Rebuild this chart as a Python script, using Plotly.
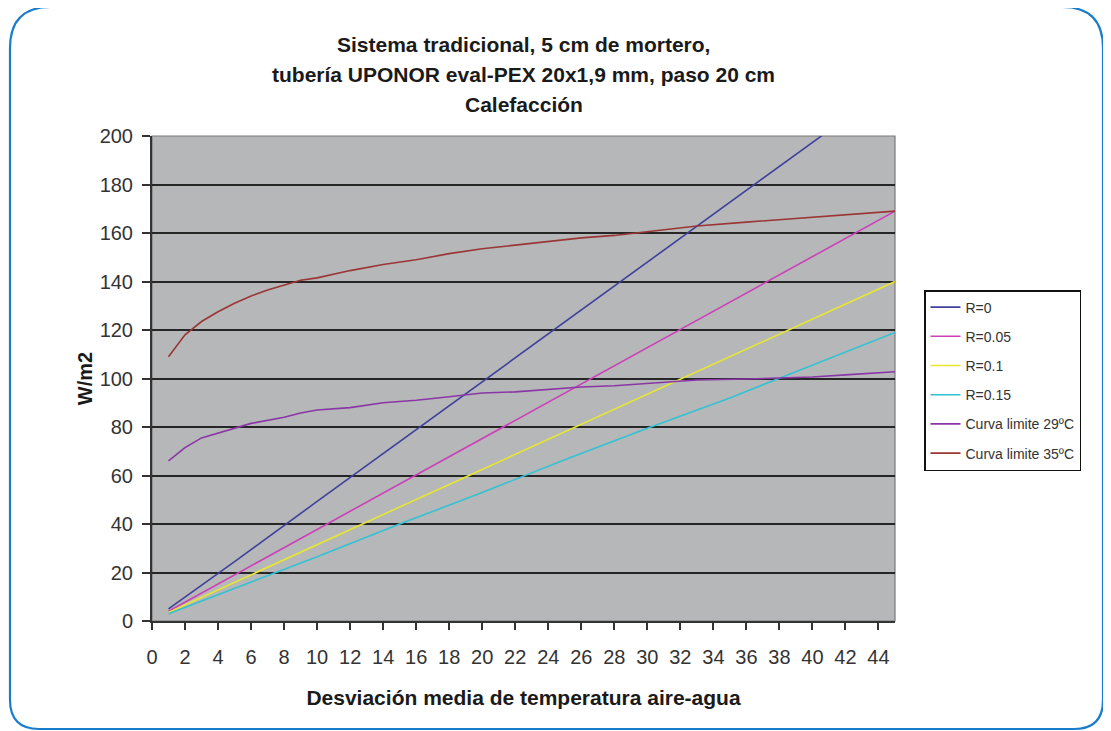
import plotly.graph_objects as go

# ---------------- data ----------------
x_lin = [1, 5, 10, 15, 20, 25, 30, 35, 40, 45]
r0 = [5, 24.5, 49.3, 74, 98.7, 123.3, 148, 172.7, 197.3, 222]
r005 = [4, 19, 37.8, 56.5, 75.3, 94, 112.8, 131.5, 150.3, 169]
r01 = [3.5, 16, 31.5, 47, 62.5, 78, 93.5, 109, 124.5, 140]
r015 = [3, 13.5, 26.5, 40, 53, 66.5, 79.5, 92, 105.5, 119]

x_c29 = [1, 2, 3, 4, 5, 6, 8, 9, 10, 12, 14, 16, 18, 20, 22, 24, 26, 28, 30, 33, 36, 40, 42, 45]
c29 = [66, 71.5, 75.5, 77.5, 79.5, 81.5, 84, 85.8, 87, 88, 90, 91, 92.5, 94, 94.5, 95.5, 96.5, 97, 98, 99.4, 99.8, 100.6, 101.5, 102.8]

x_c35 = [1, 2, 3, 4, 5, 6, 7, 8, 9, 10, 12, 14, 16, 18, 20, 22, 24, 26, 28, 30, 33, 36, 39, 42, 45]
c35 = [109, 118, 123.5, 127.5, 131, 134, 136.5, 138.5, 140.5, 141.5, 144.5, 147, 149, 151.5, 153.5, 155, 156.5, 158, 159, 160.5, 162.9, 164.5, 166, 167.5, 169]

names = ["R=0", "R=0.05", "R=0.1", "R=0.15", "Curva limite 29ºC", "Curva limite 35ºC"]
colors = ["#40409c", "#cc40b8", "#e6e633", "#33c2d2", "#8a36a6", "#9a3636"]

title_lines = ["Sistema tradicional, 5 cm de mortero,",
               "tubería UPONOR eval-PEX 20x1,9 mm, paso 20 cm",
               "Calefacción"]
x_title = "Desviación media de temperatura aire-agua"
y_title = "W/m2"
x_ticks = list(range(0, 46, 2))
y_ticks = list(range(0, 201, 20))

# ---------------- figure ----------------
OFF = 8  # page body margin
W, H = 1111, 731
L = 152 - OFF
T = 136 - OFF
R = W - (895 - OFF)
B = H - (621 - OFF)
PW, PH = W - L - R, H - T - B

fig = go.Figure()
series = [(x_lin, r0), (x_lin, r005), (x_lin, r01), (x_lin, r015), (x_c29, c29), (x_c35, c35)]
for i, ((xs, ys), nm, col) in enumerate(zip(series, names, colors)):
    fig.add_trace(go.Scatter(x=xs, y=ys, name=nm, mode="lines",
                             line=dict(color=col, width=1.6),
                             legendgroup=f"g{i}"))


def px2paper(wx, wy):
    fx, fy = wx - OFF, wy - OFF
    return (fx - L) / PW, (H - B - fy) / PH


def path_from_px(cmds):
    out = []
    for c in cmds:
        op = c[0]
        pts = c[1:]
        coords = []
        for k in range(0, len(pts), 2):
            xx, yy = px2paper(pts[k], pts[k + 1])
            coords.append(f"{xx:.5f},{yy:.5f}")
        out.append(op + " " + " ".join(coords))
    return " ".join(out)


frame = path_from_px([
    ("M", 10, 700),
    ("L", 10, 48),
    ("Q", 10, 7, 51, 7),
    ("L", 1062, 7),
    ("Q", 1103, 7, 1103, 48),
    ("L", 1103, 700),
    ("Q", 1103, 729, 1074, 729),
    ("L", 39, 729),
    ("Q", 10, 729, 10, 700),
])

fig.add_shape(type="path", path=frame, xref="paper", yref="paper",
              line=dict(color="#1a7dcc", width=2.2), layer="below")
fig.add_shape(type="rect", x0=0, x1=1, y0=0, y1=1, xref="paper", yref="paper",
              line=dict(color="#7a7a7a", width=1.2), layer="below")

# title lines as annotations (window y centres 44, 74, 104)
for line, wy in zip(title_lines, [44, 74, 104]):
    ax, ay = px2paper(525, wy)
    fig.add_annotation(text=f"<b>{line}</b>", x=0.5, y=ay, xref="paper", yref="paper",
                       xanchor="center", yanchor="middle", showarrow=False,
                       font=dict(size=21, color="#1a1a1a"))

lx, ly = px2paper(924, 290)

fig.update_layout(
    width=W, height=H,
    margin=dict(l=L, r=R, t=T, b=B, autoexpand=False),
    paper_bgcolor="white",
    plot_bgcolor="#b6b7b9",
    font=dict(family="Liberation Sans, Arial, sans-serif", color="#222"),
    showlegend=True,
    legend=dict(x=lx, y=ly, xanchor="left", yanchor="top",
                bgcolor="white", bordercolor="#111", borderwidth=1.5,
                font=dict(size=14, color="#333"),
                tracegroupgap=8, traceorder="grouped"),
    xaxis=dict(range=[0, 45], tickvals=x_ticks, ticktext=[str(v) for v in x_ticks],
               showgrid=False, zeroline=False,
               showline=True, linecolor="#333", linewidth=2,
               ticks="outside", ticklen=7, tickcolor="#333", tickwidth=1.5,
               ticklabelstandoff=10,
               tickfont=dict(size=20, color="#333"),
               title=dict(text=f"<b>{x_title}</b>", font=dict(size=21, color="#1a1a1a"), standoff=23)),
    yaxis=dict(range=[0, 200], tickvals=y_ticks, ticktext=[str(v) for v in y_ticks],
               showgrid=True, gridcolor="#262626", gridwidth=1.6,
               zeroline=False,
               showline=True, linecolor="#333", linewidth=2,
               ticks="outside", ticklen=8, tickcolor="#333", tickwidth=1.5,
               ticklabelstandoff=5,
               tickfont=dict(size=20, color="#333"),
               title=dict(text=f"<b>{y_title}</b>", font=dict(size=20, color="#1a1a1a"), standoff=2)),
)

fig.write_html("out.html")
